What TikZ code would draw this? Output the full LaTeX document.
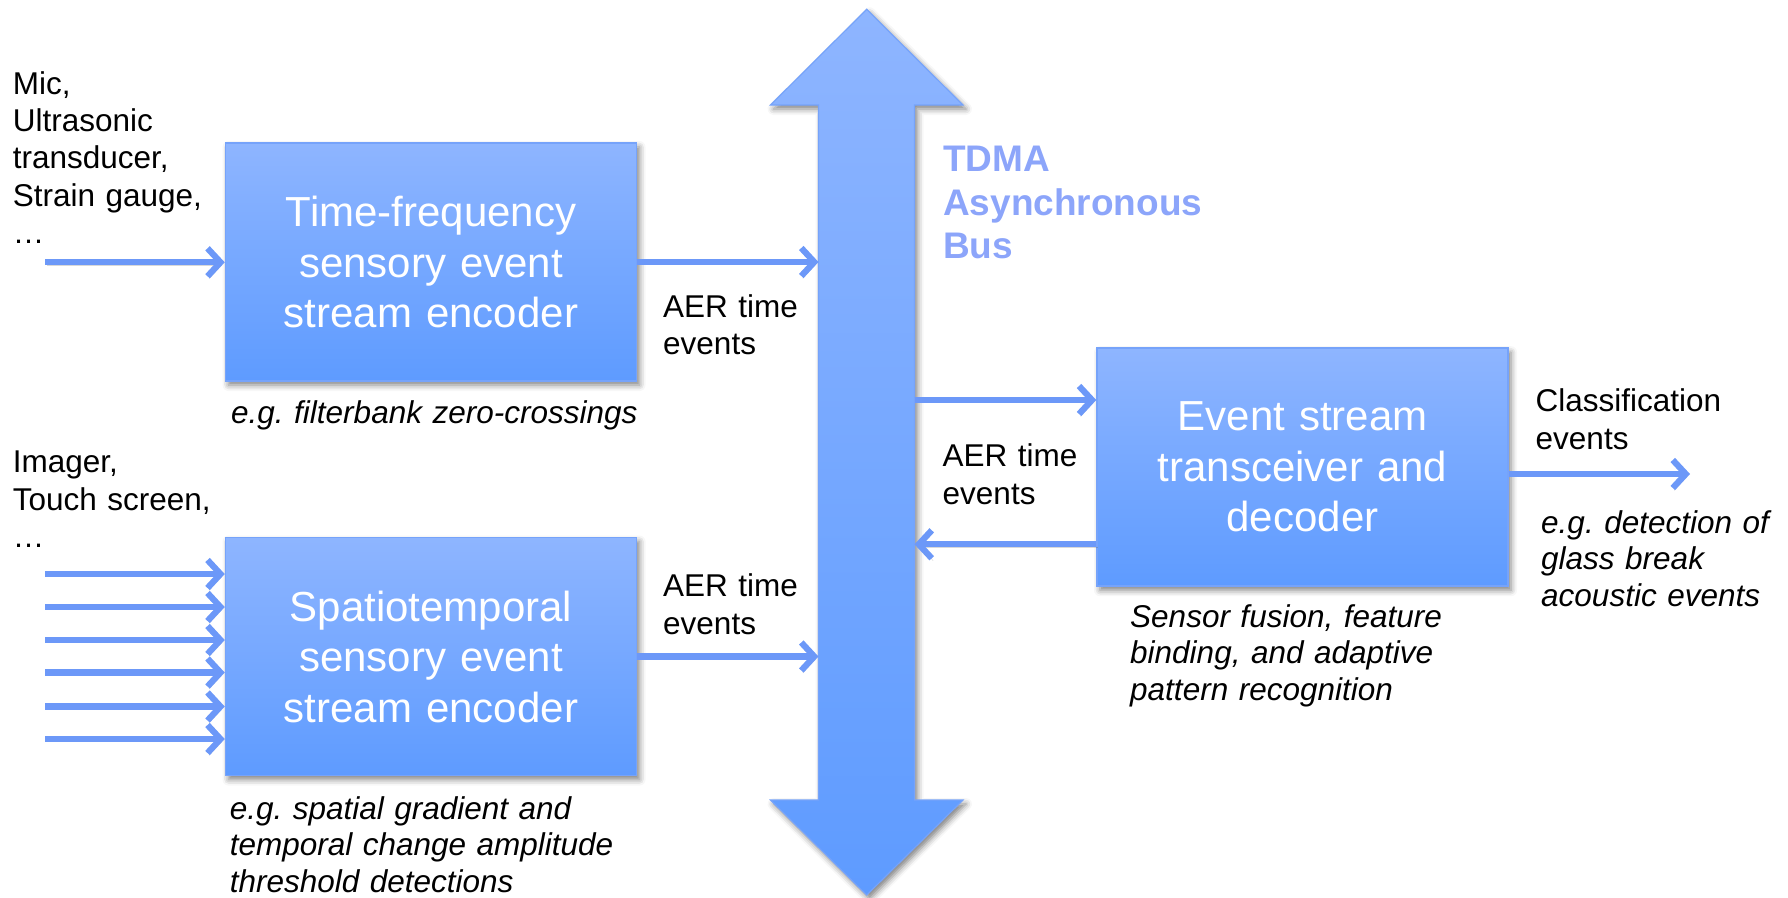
\documentclass[tikz,border=0pt]{standalone}
\usepackage{fontspec}
\setmainfont{Liberation Sans}
\usetikzlibrary{arrows.meta,shadows.blur}

\definecolor{boxtop}{RGB}{142,181,255}
\definecolor{boxbot}{RGB}{94,155,255}
\definecolor{boxedge}{RGB}{118,163,250}
\definecolor{wirecol}{RGB}{108,152,248}
\definecolor{bustext}{RGB}{140,165,250}

\tikzset{
  softshadow/.style={blur shadow={shadow xshift=3pt, shadow yshift=-4pt,
      shadow blur radius=6pt, shadow opacity=50}},
  block/.style={minimum width=411pt, minimum height=238pt, inner sep=0pt,
      top color=boxtop, bottom color=boxbot, draw=boxedge, line width=1.5pt,
      text=white, font=\fontsize{42}{50.5}\selectfont, align=center,
      text width=400pt, softshadow},
  wire/.style={draw=wirecol, line width=6.2pt,
      -{Straight Barb[length=13pt,width=28pt]},
      preaction={draw=black!70, opacity=0.22,
        transform canvas={shift={(1.5pt,-2.5pt)}}}},
  label/.style={anchor=base west, inner sep=0pt, align=left, text width=430pt,
      font=\fontsize{31.5}{37.3}\selectfont},
  note/.style={label, font=\fontsize{31.5}{36.6}\selectfont\itshape},
  bustitle/.style={label, text=bustext,
      font=\fontsize{37}{43.6}\selectfont\bfseries},
}
\frenchspacing

\begin{document}
\begin{tikzpicture}[x=1pt,y=-1pt]
\useasboundingbox (0,0) rectangle (1788,897);

% shared bus: vertical double-headed arrow
\path[softshadow, top color=boxtop, bottom color=boxbot, draw=boxedge, line width=1.2pt]
  (866.7,9.3) -- (963,105) -- (914.5,105) -- (914.5,800) -- (963,800)
  -- (866.7,895) -- (770.5,800) -- (818.5,800) -- (818.5,105) -- (770.5,105) -- cycle;
\coordinate (busL) at (818.5,0);
\coordinate (busR1) at (914.5,400);
\coordinate (busR2) at (914.5,544.3);

% processing blocks
\node[block] (b1) at (431,262) {Time-frequency\\sensory event\\stream encoder};
\node[block] (b2) at (431,656.5) {Spatiotemporal\\sensory event\\stream encoder};
\node[block] (b3) at (1302.5,467.2) {Event stream\\transceiver and\\decoder};

% sensor inputs
\coordinate (in0) at (45,262.3);
\draw[wire] (in0) -- (in0 -| b1.west);
\foreach \i/\y in {1/574,2/607,3/640,4/672.5,5/706.5,6/739}{
  \coordinate (in\i) at (45,\y);
  \draw[wire] (in\i) -- (in\i -| b2.west);
}

% event streams on and off the bus
\draw[wire] (b1.east) -- (b1.east -| busL);
\draw[wire] (b2.east) -- (b2.east -| busL);
\draw[wire] (busR1) -- (busR1 -| b3.west);
\draw[wire] (busR2 -| b3.west) -- (busR2);
\coordinate (out) at (1690,474);
\draw[wire] (out -| b3.east) -- (out);

% labels
\node[label] (src1) at (12.6,94.3) {Mic,\\Ultrasonic\\transducer,\\Strain gauge,\\…};
\node[label] (src2) at (12.6,472.7) {Imager,\\Touch screen,\\…};
\node[label] (aer1) at (663,317.3) {AER time\\events};
\node[label] (aer2) at (663,596.7) {AER time\\events};
\node[label] (aer3) at (942.5,466.7) {AER time\\events};
\node[label] (cls) at (1535.5,411.7) {Classification\\events};
\node[bustitle] (bus) at (943,171.7) {TDMA\\Asynchronous\\Bus};

\node[note] (n1) at (231,423.3) {e.g. filterbank zero-crossings};
\node[note] (n2) at (229.6,819.3) {e.g. spatial gradient and\\temporal change amplitude\\threshold detections};
\node[note] (n3) at (1130,627.3) {Sensor fusion, feature\\binding, and adaptive\\pattern recognition};
\node[note] (n4) at (1541,533.3) {e.g. detection of\\glass break\\acoustic events};
\end{tikzpicture}
\end{document}
